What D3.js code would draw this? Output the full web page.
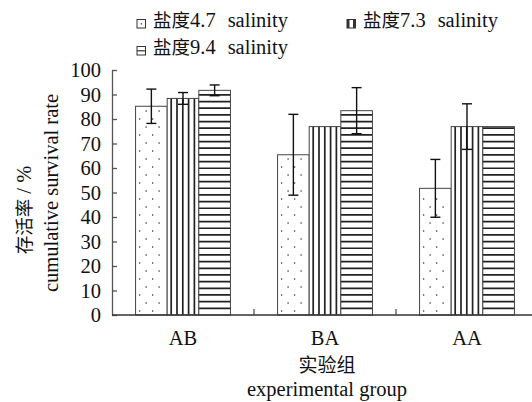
<!DOCTYPE html>
<html>
<head>
<meta charset="utf-8">
<script src="https://cdn.jsdelivr.net/npm/d3@7"></script>
<style>
  body { margin: 0; background: #fff; }
  svg { display: block; }
  text { font-family: "Liberation Serif", serif; fill: #111; }
  .cjk { font-family: "Noto Sans CJK SC", sans-serif; }
  .lat { font-family: "Liberation Serif", serif; }
</style>
</head>
<body>
<div id="chart"></div>
<script>
// data
const groups = ["AB", "BA", "AA"];
const seriesCn = ["盐度", "盐度", "盐度"];
const seriesNum = ["4.7", "7.3", "9.4"];
const seriesEn = "salinity";
const sal47 = [85.2, 65.4, 51.7];
const sal73 = [88.4, 76.9, 76.9];
const sal94 = [91.7, 83.4, 76.9];
const err47 = [7.0, 16.5, 11.8];
const err73 = [2.4, 0, 9.3];
const err94 = [2.2, 9.4, 0];
const yTicks = [0, 10, 20, 30, 40, 50, 60, 70, 80, 90, 100];

const W = 532, H = 402;
const margin = { left: 112, top: 70, bottom: 87 };
const plotRight = 538; // axis runs past the window edge
const latSize = "20.5px", cjkSize = "18.5px";

const svg = d3.select("#chart").append("svg")
  .attr("width", W).attr("height", H);

const x = d3.scaleBand().domain(groups).range([margin.left, plotRight]).paddingInner(0).paddingOuter(0);
const x1 = d3.scaleBand().domain([0, 1, 2]).range([0, x.bandwidth()]).paddingOuter(0.745).paddingInner(0);
const y = d3.scaleLinear().domain([0, 100]).range([H - margin.bottom, margin.top]);

const values = [sal47, sal73, sal94];
const errs = [err47, err73, err94];

const bars = [];
groups.forEach((g, gi) => {
  values.forEach((s, si) => {
    bars.push({ g, si, v: s[gi], e: errs[si][gi] });
  });
});

const lineCol = "#222";

// fills drawn inside each bar
function drawFill(sel, d, x0, w, y0, y1) {
  if (d.si === 0) {
    // staggered dots
    let row = 0;
    for (let yy = y1 - 4; yy > y0 + 3; yy -= 8) {
      const off = row % 2 ? 6.5 : 0;
      for (let xx = x0 + 4 + off; xx < x0 + w - 2; xx += 13) {
        sel.append("rect").attr("x", xx - 0.6).attr("y", yy - 0.6)
          .attr("width", 1.3).attr("height", 1.3).attr("fill", "#333");
      }
      row++;
    }
  } else if (d.si === 1) {
    for (let xx = x0 + 4; xx < x0 + w - 1; xx += 5.8) {
      sel.append("line").attr("x1", xx).attr("x2", xx).attr("y1", y0).attr("y2", y1)
        .attr("stroke", lineCol).attr("stroke-width", 1.7);
    }
  } else {
    for (let yy = y1 - 6.7; yy > y0; yy -= 6.67) {
      sel.append("line").attr("x1", x0).attr("x2", x0 + w).attr("y1", yy).attr("y2", yy)
        .attr("stroke", lineCol).attr("stroke-width", 1.7);
    }
  }
}

const barG = svg.append("g");
bars.forEach(d => {
  const bx = x(d.g) + x1(d.si);
  const bw = x1.bandwidth();
  const top = y(d.v), bot = y(0);
  const g = barG.append("g");
  g.append("rect").attr("x", bx).attr("y", top).attr("width", bw).attr("height", bot - top)
    .attr("fill", "#fff");
  drawFill(g, d, bx, bw, top, bot);
  g.append("rect").attr("x", bx).attr("y", top).attr("width", bw).attr("height", bot - top)
    .attr("fill", "none").attr("stroke", "#444").attr("stroke-width", 1);
});

// error bars
const errG = svg.append("g").attr("stroke", "#111").attr("stroke-width", 1.4);
bars.filter(d => d.e > 0).forEach(d => {
  const cx = x(d.g) + x1(d.si) + x1.bandwidth() / 2;
  errG.append("line").attr("x1", cx).attr("x2", cx).attr("y1", y(d.v + d.e)).attr("y2", y(d.v - d.e));
  errG.append("line").attr("x1", cx - 5).attr("x2", cx + 5).attr("y1", y(d.v + d.e)).attr("y2", y(d.v + d.e));
  errG.append("line").attr("x1", cx - 5).attr("x2", cx + 5).attr("y1", y(d.v - d.e)).attr("y2", y(d.v - d.e));
});

// y axis, ticks pointing inward
const yAxis = svg.append("g").attr("transform", `translate(${margin.left},0)`)
  .call(d3.axisRight(y).tickValues(yTicks).tickSize(5).tickSizeOuter(0));
yAxis.select(".domain").attr("stroke", "#555").attr("stroke-width", 1.3);
yAxis.selectAll(".tick line").attr("stroke", "#555").attr("stroke-width", 1.3);
yAxis.selectAll(".tick text").attr("x", -11).attr("text-anchor", "end")
  .attr("font-family", "Liberation Serif").style("font-size", latSize).attr("fill", "#111");

// x axis with ticks at band boundaries
const xAxisG = svg.append("g").attr("transform", `translate(0,${y(0)})`);
xAxisG.append("line").attr("x1", margin.left).attr("x2", plotRight)
  .attr("stroke", "#333").attr("stroke-width", 1.3);
xAxisG.selectAll("line.bt").data(groups.slice(1)).join("line").attr("class", "bt")
  .attr("x1", d => x(d)).attr("x2", d => x(d)).attr("y1", 0).attr("y2", -6)
  .attr("stroke", "#444").attr("stroke-width", 1.2);
xAxisG.selectAll("text").data(groups).join("text")
  .attr("x", d => x(d) + x.bandwidth() / 2).attr("y", 30)
  .attr("text-anchor", "middle").style("font-size", latSize).text(d => d);

// axis titles
const cx = (margin.left + plotRight) / 2 + 2;
svg.append("text").attr("class", "cjk").attr("x", cx).attr("y", 372).attr("text-anchor", "middle")
  .style("font-size", "19px").text("实验组");
svg.append("text").attr("class", "lat").attr("x", cx).attr("y", 396).attr("text-anchor", "middle")
  .style("font-size", latSize).text("experimental group");

const yt = svg.append("text").attr("transform", `translate(25,210) rotate(-90)`)
  .attr("text-anchor", "middle").attr("dy", "0.35em");
yt.append("tspan").attr("class", "cjk").style("font-size", cjkSize).text("存活率");
yt.append("tspan").attr("class", "lat").style("font-size", latSize).text(" / %");
svg.append("text").attr("class", "lat").attr("transform", `translate(51,193) rotate(-90)`)
  .attr("text-anchor", "middle").attr("dy", "0.35em").style("font-size", latSize).text("cumulative survival rate");

// legend
const legendPos = [[137, 27], [347, 27], [137, 54]];
legendPos.forEach((p, i) => {
  const g = svg.append("g").attr("transform", `translate(${p[0]},${p[1]})`);
  g.append("rect").attr("x", 0).attr("y", -7.5).attr("width", 8.5).attr("height", 8.5)
    .attr("fill", "#fff").attr("stroke", "#333").attr("stroke-width", 1);
  if (i === 0) {
    g.append("rect").attr("x", 3.7).attr("y", -3.8).attr("width", 1.3).attr("height", 1.3).attr("fill", "#333");
  } else if (i === 1) {
    g.append("rect").attr("x", 0).attr("y", -7.5).attr("width", 2.5).attr("height", 8.5).attr("fill", "#333");
    g.append("rect").attr("x", 6).attr("y", -7.5).attr("width", 2.5).attr("height", 8.5).attr("fill", "#333");
  } else {
    g.append("line").attr("x1", 0).attr("x2", 8.5).attr("y1", -3.2).attr("y2", -3.2)
      .attr("stroke", "#333").attr("stroke-width", 1.2);
  }
  const t = g.append("text").attr("x", 16).attr("y", 0);
  t.append("tspan").attr("class", "cjk").style("font-size", cjkSize).text(seriesCn[i]);
  t.append("tspan").attr("class", "lat").style("font-size", latSize).text(seriesNum[i]);
  t.append("tspan").attr("class", "lat").style("font-size", latSize).attr("dx", 12).text(seriesEn);
});
</script>
</body>
</html>
